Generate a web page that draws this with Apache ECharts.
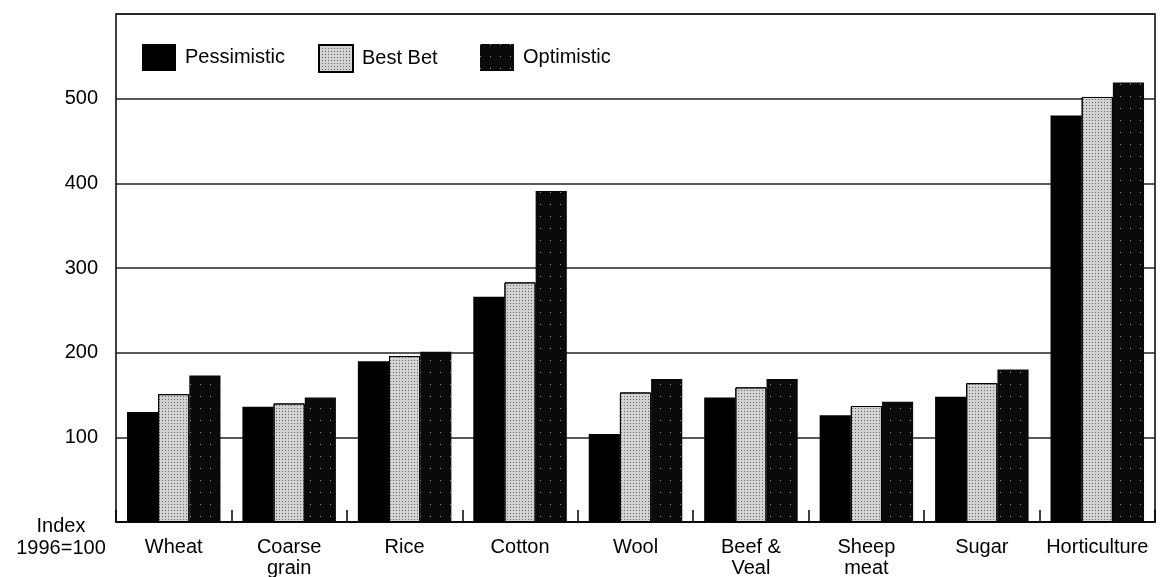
<!DOCTYPE html>
<html>
<head>
<meta charset="utf-8">
<script src="https://cdn.jsdelivr.net/npm/echarts@6/dist/echarts.min.js"></script>
<style>
html,body{margin:0;padding:0;background:#fff;}
#chart{width:1161px;height:577px;}
</style>
</head>
<body>
<div id="chart"></div>
<script>
const categories = ['Wheat', 'Coarse\ngrain', 'Rice', 'Cotton', 'Wool', 'Beef &\nVeal', 'Sheep\nmeat', 'Sugar', 'Horticulture'];
const pessimistic = [130, 136, 190, 266, 104, 147, 126, 148, 480];
const bestBet     = [151, 140, 196, 283, 153, 159, 137, 164, 502];
const optimistic  = [173, 147, 201, 391, 169, 169, 142, 180, 519];
const yTicks = [0, 100, 200, 300, 400, 500, 600];
const seriesNames = ['Pessimistic', 'Best Bet', 'Optimistic'];

const FONT = '"Liberation Sans", Arial, sans-serif';
const chart = echarts.init(document.getElementById('chart'));

const legendLefts = [142, 318, 480];
const legends = seriesNames.map((n, i) => ({
  left: legendLefts[i], top: 44, padding: 0,
  itemWidth: 34, itemHeight: 27,
  icon: 'rect',
  textStyle: { fontFamily: FONT, fontSize: 20, color: '#000', padding: [0, 0, 0, 4] },
  data: [n]
}));

chart.setOption({
  backgroundColor: '#fff',
  animation: false,
  textStyle: { fontFamily: FONT },
  grid: {
    left: 116, right: 6, top: 14, bottom: 55,
    outerBoundsMode: 'none', containLabel: false,
    show: true, borderColor: '#000', borderWidth: 1.5, backgroundColor: 'transparent'
  },
  legend: legends,
  xAxis: {
    type: 'category',
    data: categories,
    axisLine: { show: true, lineStyle: { color: '#000', width: 1.5 } },
    axisTick: { show: true, inside: true, length: 12, lineStyle: { color: '#000', width: 1.5 } },
    axisLabel: { color: '#000', fontSize: 20, fontFamily: FONT, margin: 15, lineHeight: 21, interval: 0 }
  },
  yAxis: {
    type: 'value',
    min: yTicks[0], max: yTicks[yTicks.length - 1], interval: 100,
    axisLine: { show: false },
    axisTick: { show: false },
    axisLabel: {
      color: '#000', fontSize: 20, fontFamily: FONT, margin: 18,
      formatter: v => (v === 0 || v === 600) ? '' : String(v)
    },
    splitLine: { show: true, lineStyle: { color: '#222', width: 1.5 } }
  },
  graphic: [{
    type: 'text', x: 61, y: 515,
    style: { text: 'Index\n1996=100', fill: '#000', font: '20px ' + FONT, align: 'center', verticalAlign: 'top', lineHeight: 22 }
  }],
  series: [
    {
      name: seriesNames[0], type: 'bar', data: pessimistic,
      barGap: '0%', barCategoryGap: '19%',
      itemStyle: { color: '#000' }
    },
    {
      name: seriesNames[1], type: 'bar', data: bestBet,
      barGap: '0%', barCategoryGap: '19%',
      itemStyle: {
        color: '#d2d2d2', borderColor: '#000', borderWidth: 1,
        decal: { symbol: 'rect', symbolSize: 1, color: 'rgba(30,30,30,0.6)', dashArrayX: [1, 2], dashArrayY: [1, 2], rotation: 0 }
      }
    },
    {
      name: seriesNames[2], type: 'bar', data: optimistic,
      barGap: '0%', barCategoryGap: '19%',
      itemStyle: {
        color: '#0a0a0a',
        decal: { symbol: 'rect', symbolSize: 1, color: 'rgba(255,255,255,0.55)', dashArrayX: [1, 9], dashArrayY: [1, 11], rotation: 0 }
      }
    }
  ]
});
</script>
</body>
</html>
